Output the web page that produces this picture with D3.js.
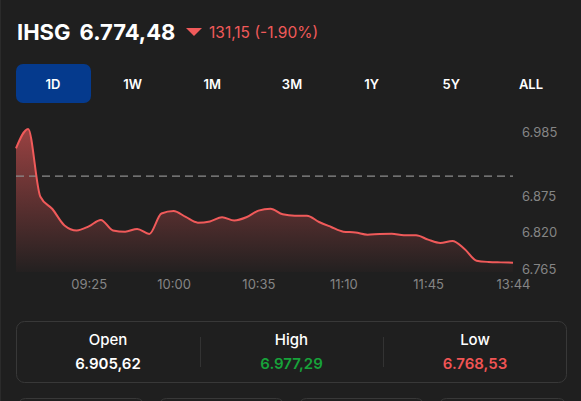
<!DOCTYPE html>
<html>
<head>
<meta charset="utf-8">
<script src="https://cdn.jsdelivr.net/npm/d3@7"></script>
<style>
  html, body { margin: 0; padding: 0; background: #1f1f1f; }
  svg { display: block; font-family: Inter, "Noto Sans", sans-serif; }
</style>
</head>
<body>
<svg id="chart" width="581" height="401"></svg>
<script>
// 5-minute bars, lunch break folded out
let times = ["08:55","09:00","09:05","09:10","09:15","09:20","09:25","09:30","09:35","09:40",
             "09:45","09:50","09:55","10:00","10:05","10:10","10:15","10:20","10:25","10:30",
             "10:35","10:40","10:45","10:50","10:55","11:00","11:05","11:10","11:15","11:20",
             "11:25","11:30","11:35","11:40","11:45","11:50","11:55","12:00","13:30","13:35",
             "13:40","13:44"];
let prices = [6948.0, 6977.29, 6874.9, 6855.9, 6830.9, 6823.3, 6829.4, 6839.3, 6823.3, 6821.5,
              6825.6, 6818.0, 6849.1, 6852.9, 6843.8, 6835.2, 6837.0, 6843.3, 6838.5, 6843.3,
              6853.4, 6856.4, 6847.9, 6845.8, 6845.8, 6836.2, 6828.6, 6821.5, 6820.3, 6817.0,
              6818.0, 6818.3, 6816.0, 6816.0, 6809.4, 6804.4, 6807.4, 6795.3, 6777.4, 6775.5,
              6774.9, 6774.48];
let xTicks = ["09:25","10:00","10:35","11:10","11:45","13:44"];
let yTicks = [6985, 6875, 6820, 6765];
let prevClose = 6905.63;

let tabs = ["1D","1W","1M","3M","1Y","5Y","ALL"];
let statLabels = ["Open","High","Low"];
let statValues = [6905.62, 6977.29, 6768.53];
let lastPrice = 6774.48, change = 131.15, changePct = -1.90;

let idLocale = d3.formatLocale({decimal: ",", thousands: ".", grouping: [3], currency: ["", ""]});
let fmt2 = idLocale.format(",.2f");
let fmtTick = idLocale.format(",.0f");

let red = "#f05a5a", grey = "#858585";
let svg = d3.select("#chart");

svg.append("line").attr("x1", 0.5).attr("x2", 0.5).attr("y1", 0).attr("y2", 401)
   .attr("stroke", "#2b2b2b");

// header
let head = svg.append("text").attr("x", 17).attr("y", 40)
   .attr("fill", "#fff").attr("font-weight", 700).attr("font-size", 22);
head.append("tspan").text("IHSG");
head.append("tspan").attr("dx", 9).text(fmt2(lastPrice));

svg.append("path").attr("d", "M186,28 L202,28 L194,36 Z").attr("fill", red);
svg.append("text").attr("x", 209).attr("y", 38).attr("fill", red).attr("font-size", 15.5)
   .text(fmt2(change) + " (" + changePct.toFixed(2) + "%)");

// period tabs
let tabX = d3.scalePoint().domain(tabs).range([53, 531]);
svg.append("rect").attr("x", 16).attr("y", 64).attr("width", 75).attr("height", 39)
   .attr("rx", 7).attr("fill", "#053a8d");
svg.selectAll(".tab").data(tabs).enter().append("text")
   .attr("x", d => tabX(d)).attr("y", 89)
   .attr("text-anchor", "middle").attr("fill", "#fff")
   .attr("font-size", 13).attr("font-weight", 600).text(d => d);

// chart
let x = d3.scalePoint().domain(times).range([16, 513]);
let y = d3.scaleLinear().domain([6765, 6985]).range([268.9, 123.9]);
let bottom = 272;

let defs = svg.append("defs");
let grad = defs.append("linearGradient").attr("id", "fade")
   .attr("gradientUnits", "userSpaceOnUse")
   .attr("x1", 0).attr("x2", 0).attr("y1", 125).attr("y2", bottom);
grad.append("stop").attr("offset", 0).attr("stop-color", red).attr("stop-opacity", 0.6);
grad.append("stop").attr("offset", 1).attr("stop-color", red).attr("stop-opacity", 0.02);

let data = times.map((t, i) => ({t: t, v: prices[i]}));

svg.append("path").datum(data)
   .attr("fill", "url(#fade)")
   .attr("d", d3.area().curve(d3.curveMonotoneX)
     .x(d => x(d.t)).y0(bottom).y1(d => y(d.v)));

svg.append("line")
   .attr("x1", 16).attr("x2", 513)
   .attr("y1", y(prevClose)).attr("y2", y(prevClose))
   .attr("stroke", "#8d8d8d").attr("stroke-width", 1.3).attr("stroke-dasharray", "8,5");

svg.append("path").datum(data)
   .attr("fill", "none").attr("stroke", red).attr("stroke-width", 2)
   .attr("d", d3.line().curve(d3.curveMonotoneX).x(d => x(d.t)).y(d => y(d.v)));

let yAxis = svg.append("g").attr("transform", "translate(513,0)")
   .call(d3.axisRight(y).tickValues(yTicks).tickSize(0).tickPadding(9).tickFormat(fmtTick));
let xAxis = svg.append("g").attr("transform", "translate(0," + bottom + ")")
   .call(d3.axisBottom(x).tickValues(xTicks).tickSize(0).tickPadding(8));
[yAxis, xAxis].forEach(a => {
  a.select(".domain").remove();
  a.selectAll("text").attr("fill", grey).attr("font-size", 13).attr("font-family", "Inter, sans-serif");
});
// top label is pushed down inside the plot
yAxis.selectAll(".tick").filter(d => d === 6985).select("text").attr("dy", "0.95em");

// stats card
svg.append("rect").attr("x", 16.5).attr("y", 321.5).attr("width", 550).attr("height", 61)
   .attr("rx", 8).attr("fill", "none").attr("stroke", "#383838");
let statX = d3.scalePoint().domain(statLabels).range([108, 475]);
let statCol = ["#ffffff", "#17a23a", "#f05454"];
svg.selectAll(".slab").data(statLabels).enter().append("text")
   .attr("x", d => statX(d)).attr("y", 345).attr("text-anchor", "middle")
   .attr("fill", "#fff").attr("font-size", 15).attr("font-weight", 500).text(d => d);
svg.selectAll(".sval").data(statValues).enter().append("text")
   .attr("x", (d, i) => statX(statLabels[i])).attr("y", 369).attr("text-anchor", "middle")
   .attr("fill", (d, i) => statCol[i]).attr("font-size", 15).attr("font-weight", 600)
   .text(d => fmt2(d));
[200, 383].forEach(dx => {
  svg.append("line").attr("x1", dx + 0.5).attr("x2", dx + 0.5).attr("y1", 337).attr("y2", 367)
     .attr("stroke", "#333");
});

// next row of boxes, cut off at the bottom
[[17.5, 127], [158.5, 126], [298.5, 126], [438.5, 128]].forEach(b => {
  svg.append("rect").attr("x", b[0]).attr("y", 398.5).attr("width", b[1]).attr("height", 30)
     .attr("rx", 8).attr("fill", "none").attr("stroke", "#383838");
});
</script>
</body>
</html>
